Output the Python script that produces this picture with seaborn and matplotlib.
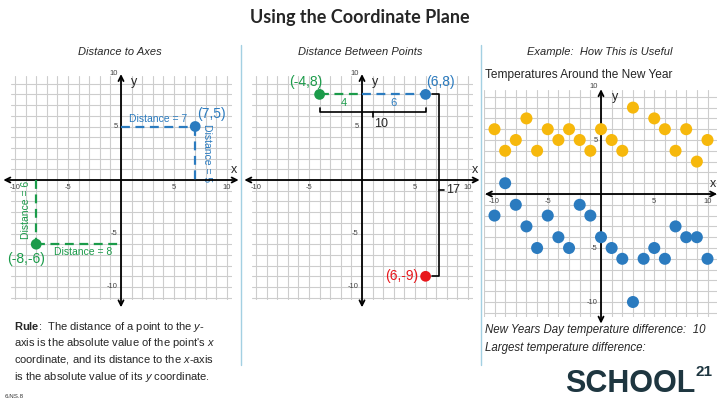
import numpy as np
import matplotlib
matplotlib.use("Agg")
import matplotlib.pyplot as plt
from matplotlib.lines import Line2D
import seaborn as sns

# ---- data ----
axes_blue = (7, 5)
axes_green = (-8, -6)

pts_green = (-4, 8)
pts_blue = (6, 8)
pts_red = (6, -9)

days = list(range(-10, 11))
temp_high = [6, 4, 5, 7, 4, 6, 5, 6, 5, 4, 6, 5, 4, 8, np.nan, 7, 6, 4, 6, 3, 5]
temp_low = [-2, 1, -1, -3, -5, -2, -4, -5, -1, -2, -4, -5, -6, -10, -6, -5, -6, -3, -4, -4, -6]

axis_ticks = [-10, -5, 5, 10]

BLUE = "#2b7bbf"
GREEN = "#1b9b4a"
RED = "#e8171c"
YELLOW = "#f6b80c"
GRIDC = "#cdcdcd"
SEP = "#a3d0e2"

sns.set_theme(style="white")
plt.rcParams["font.family"] = ["Liberation Sans", "DejaVu Sans"]
plt.rcParams["mathtext.fontset"] = "custom"
plt.rcParams["mathtext.rm"] = "Liberation Sans"
plt.rcParams["mathtext.it"] = "Liberation Sans:italic"
plt.rcParams["mathtext.bf"] = "Liberation Sans:bold"

W, H = 720, 404
fig = plt.figure(figsize=(7.2, 4.04), dpi=100)
fig.patch.set_facecolor("white")


def grid_axes(ox, oy, ux, uy, xlim, ylim):
    left = ox + xlim[0] * ux
    right = ox + xlim[1] * ux
    top = oy - ylim[1] * uy
    bottom = oy - ylim[0] * uy
    ax = fig.add_axes([left / W, 1 - bottom / H, (right - left) / W, (bottom - top) / H])
    ax.set_xlim(*xlim)
    ax.set_ylim(*ylim)
    ax.set_xticks(np.arange(np.ceil(xlim[0]), np.floor(xlim[1]) + 1))
    ax.set_yticks(np.arange(np.ceil(ylim[0]), np.floor(ylim[1]) + 1))
    ax.grid(True, color=GRIDC, lw=0.8)
    ax.set_axisbelow(True)
    ax.tick_params(length=0, labelbottom=False, labelleft=False)
    for s in ax.spines.values():
        s.set_visible(False)
    ax.set_facecolor("none")
    return ax


def draw_axes(ax, xr, yr, ylab_x=0.9):
    arrow = dict(arrowstyle="<->", color="black", lw=1.3, shrinkA=0, shrinkB=0,
                 mutation_scale=9)
    ax.annotate("", xy=(xr[1], 0), xytext=(xr[0], 0), arrowprops=arrow,
                annotation_clip=False, zorder=4)
    ax.annotate("", xy=(0, yr[1]), xytext=(0, yr[0]), arrowprops=arrow,
                annotation_clip=False, zorder=4)
    for v in axis_ticks:
        ax.text(v, -0.35, str(v), ha="center", va="top", fontsize=5.5,
                color="#444444", zorder=3)
        ax.text(-0.3, v, str(v), ha="right", va="center", fontsize=5.5,
                color="#444444", zorder=3)
    ax.text(xr[1] - 0.4, 0.35, "x", ha="center", va="bottom", fontsize=9)
    ax.text(ylab_x, yr[1] - 0.2, "y", ha="left", va="top", fontsize=9)


dash = (0, (4, 2.5))

# ---- panel 1: distance to axes ----
ax1 = grid_axes(121, 180, 10.6, 10.7, (-10.4, 10.5), (-11.2, 9.7))
draw_axes(ax1, (-11.1, 11.1), (-11.9, 9.9))
bx, by = axes_blue
gx, gy = axes_green
ax1.plot([0, bx], [by, by], ls=dash, color=BLUE, lw=1.6, zorder=5)
ax1.plot([bx, bx], [by, 0], ls=dash, color=BLUE, lw=1.6, zorder=5)
ax1.plot([gx, gx], [0, gy], ls=dash, color=GREEN, lw=1.6, zorder=5)
ax1.plot([gx, 0], [gy, gy], ls=dash, color=GREEN, lw=1.6, zorder=5)
sns.scatterplot(x=[bx], y=[by], color=BLUE, s=60, edgecolor="none", ax=ax1, zorder=6)
sns.scatterplot(x=[gx], y=[gy], color=GREEN, s=60, edgecolor="none", ax=ax1, zorder=6)
ax1.text(bx + 0.2, by + 1.2, f"({bx},{by})", color=BLUE, fontsize=10, ha="left", va="center")
ax1.text(bx / 2, by + 0.25, f"Distance = {abs(bx)}", color=BLUE, fontsize=7.5,
         ha="center", va="bottom")
ax1.text(bx + 0.6, by / 2, f"Distance = {abs(by)}", color=BLUE, fontsize=7.5,
         ha="left", va="center", rotation=270)
ax1.text(gx - 1.0, gy - 1.35, f"({gx},{gy})", color=GREEN, fontsize=10, ha="center", va="center")
ax1.text(gx - 0.45, gy / 2 + 0.2, f"Distance = {abs(gy)}", color=GREEN, fontsize=7.5,
         ha="right", va="center", rotation=90)
ax1.text(gx / 2 + 0.4, gy - 0.3, f"Distance = {abs(gx)}", color=GREEN, fontsize=7.5,
         ha="center", va="top")

# ---- panel 2: distance between points ----
ax2 = grid_axes(362, 180, 10.6, 10.7, (-10.4, 10.5), (-11.2, 9.7))
draw_axes(ax2, (-11.1, 11.1), (-11.9, 9.9))
g2x, g2y = pts_green
b2x, b2y = pts_blue
r2x, r2y = pts_red
ax2.plot([g2x, 0], [g2y, g2y], ls=dash, color=GREEN, lw=1.6, zorder=5)
ax2.plot([0, b2x], [b2y, b2y], ls=dash, color=BLUE, lw=1.6, zorder=5)
sns.scatterplot(x=[g2x], y=[g2y], color=GREEN, s=60, edgecolor="none", ax=ax2, zorder=6)
sns.scatterplot(x=[b2x], y=[b2y], color=BLUE, s=60, edgecolor="none", ax=ax2, zorder=6)
sns.scatterplot(x=[r2x], y=[r2y], color=RED, s=60, edgecolor="none", ax=ax2, zorder=6)
ax2.text(g2x - 1.3, g2y + 1.2, f"({g2x},{g2y})", color=GREEN, fontsize=10, ha="center", va="center")
ax2.text(b2x + 1.4, b2y + 1.2, f"({b2x},{b2y})", color=BLUE, fontsize=10, ha="center", va="center")
ax2.text(r2x - 0.7, r2y, f"({r2x},{r2y})", color=RED, fontsize=10, ha="right", va="center")
ax2.text(g2x / 2 + 0.3, g2y - 0.3, str(abs(g2x)), color=GREEN, fontsize=8, ha="center", va="top")
ax2.text(b2x / 2, b2y - 0.3, str(abs(b2x)), color=BLUE, fontsize=8, ha="center", va="top")
# horizontal bracket
yb = g2y - 1.65
ax2.plot([g2x, g2x, b2x, b2x], [yb + 0.4, yb, yb, yb + 0.4], color="black", lw=1.2, zorder=5)
mid = (g2x + b2x) / 2
ax2.plot([mid, mid], [yb, yb - 0.45], color="black", lw=1.2, zorder=5)
ax2.text(mid + 0.15, yb - 0.55, str(b2x - g2x), fontsize=9, ha="left", va="top")
# vertical bracket
xb = b2x + 1.3
ax2.plot([b2x + 0.6, xb, xb, b2x + 0.6], [b2y, b2y, r2y, r2y], color="black", lw=1.2, zorder=5)
ymid = (b2y + r2y) / 2 - 0.4
ax2.plot([xb, xb + 0.45], [ymid, ymid], color="black", lw=1.2, zorder=5)
ax2.text(xb + 0.6, ymid, str(b2y - r2y), fontsize=9, ha="left", va="center")

# ---- panel 3: temperatures ----
ax3 = grid_axes(601, 194, 10.65, 10.8, (-11.0, 10.9), (-11.4, 9.6))
draw_axes(ax3, (-10.9, 10.9), (-12.0, 9.7), ylab_x=1.0)
sns.scatterplot(x=days, y=temp_high, color=YELLOW, s=75, edgecolor="none", ax=ax3, zorder=6)
sns.scatterplot(x=days, y=temp_low, color=BLUE, s=75, edgecolor="none", ax=ax3, zorder=6)
for a in (ax1, ax2, ax3):
    leg = a.get_legend()
    if leg:
        leg.remove()

# ---- figure text ----
fig.text(0.5, 1 - 18 / H, "Using the Coordinate Plane", ha="center", va="center",
         fontsize=13, weight="bold", family=["Lato", "DejaVu Sans"])
fig.text(120 / W, 1 - 52 / H, "Distance to Axes", ha="center", va="center",
         fontsize=8, style="italic")
fig.text(360 / W, 1 - 52 / H, "Distance Between Points", ha="center", va="center",
         fontsize=8, style="italic")
fig.text(600 / W, 1 - 52 / H, "Example:  How This is Useful", ha="center", va="center",
         fontsize=8, style="italic")
fig.text(485 / W, 1 - 75 / H, "Temperatures Around the New Year", ha="left", va="center",
         fontsize=8.6)

rule = [r"$\bf{Rule}$:  The distance of a point to the $\it{y}$-",
        r"axis is the absolute value of the point's $\it{x}$",
        r"coordinate, and its distance to the $\it{x}$-axis",
        r"is the absolute value of its $\it{y}$ coordinate."]
for i, line in enumerate(rule):
    fig.text(14 / W, 1 - (327 + 16.5 * i) / H, line, ha="left", va="center", fontsize=8)

fig.text(485 / W, 1 - 330 / H, "New Years Day temperature difference:  10", ha="left",
         va="center", fontsize=8.3, style="italic")
fig.text(485 / W, 1 - 348 / H, "Largest temperature difference:", ha="left",
         va="center", fontsize=8.3, style="italic")

fig.text(5 / W, 1 - 397 / H, "6.NS.8", ha="left", va="center", fontsize=4.5, color="#333333")
fig.text(695 / W, 1 - 384 / H, "SCHOOL", ha="right", va="center", fontsize=22,
         weight="bold", color="#1e3640")
fig.text(695 / W, 1 - 372 / H, "21", ha="left", va="center", fontsize=11,
         weight="bold", color="#1e3640")

for xs in (241, 481):
    fig.add_artist(Line2D([xs / W, xs / W], [1 - 45 / H, 1 - 365 / H], color=SEP, lw=1.0))

fig.savefig("out.png", dpi=100, facecolor="white")
